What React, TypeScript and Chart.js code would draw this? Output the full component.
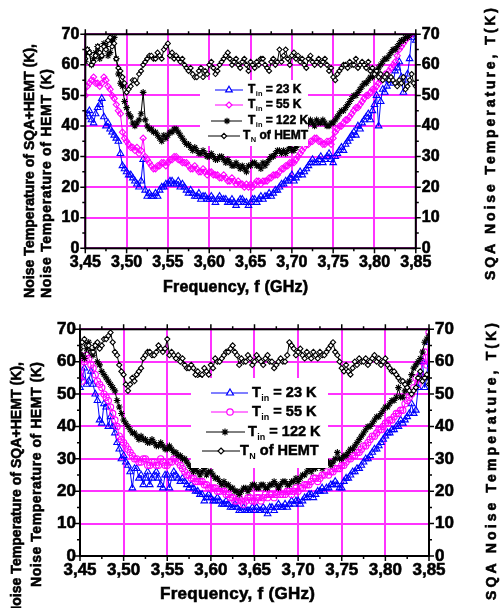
import React, { useEffect, useRef } from 'react';
import { Chart, registerables } from 'chart.js';
Chart.register(...registerables);

const FF = '"Liberation Sans", Arial, Helvetica, sans-serif';
const GRID = '#ff33ff';

const FREQ = [
  3.4500, 3.4525, 3.4550, 3.4575, 3.4600, 3.4625, 3.4650, 3.4675,
  3.4700, 3.4725, 3.4750, 3.4775, 3.4800, 3.4825, 3.4850, 3.4875,
  3.4900, 3.4925, 3.4950, 3.4975, 3.5000, 3.5025, 3.5050, 3.5075,
  3.5100, 3.5125, 3.5150, 3.5175, 3.5200, 3.5225, 3.5250, 3.5275,
  3.5300, 3.5325, 3.5350, 3.5375, 3.5400, 3.5425, 3.5450, 3.5475,
  3.5500, 3.5525, 3.5550, 3.5575, 3.5600, 3.5625, 3.5650, 3.5675,
  3.5700, 3.5725, 3.5750, 3.5775, 3.5800, 3.5825, 3.5850, 3.5875,
  3.5900, 3.5925, 3.5950, 3.5975, 3.6000, 3.6025, 3.6050, 3.6075,
  3.6100, 3.6125, 3.6150, 3.6175, 3.6200, 3.6225, 3.6250, 3.6275,
  3.6300, 3.6325, 3.6350, 3.6375, 3.6400, 3.6425, 3.6450, 3.6475,
  3.6500, 3.6525, 3.6550, 3.6575, 3.6600, 3.6625, 3.6650, 3.6675,
  3.6700, 3.6725, 3.6750, 3.6775, 3.6800, 3.6825, 3.6850, 3.6875,
  3.6900, 3.6925, 3.6950, 3.6975, 3.7000, 3.7025, 3.7050, 3.7075,
  3.7100, 3.7125, 3.7150, 3.7175, 3.7200, 3.7225, 3.7250, 3.7275,
  3.7300, 3.7325, 3.7350, 3.7375, 3.7400, 3.7425, 3.7450, 3.7475,
  3.7500, 3.7525, 3.7550, 3.7575, 3.7600, 3.7625, 3.7650, 3.7675,
  3.7700, 3.7725, 3.7750, 3.7775, 3.7800, 3.7825, 3.7850, 3.7875,
  3.7900, 3.7925, 3.7950, 3.7975, 3.8000, 3.8025, 3.8050, 3.8075,
  3.8100, 3.8125, 3.8150, 3.8175, 3.8200, 3.8225, 3.8250, 3.8275,
  3.8300, 3.8325, 3.8350, 3.8375, 3.8400, 3.8425, 3.8450, 3.8475,
  3.8500,
];

// ---- top panel ----
const TOP_T23 = [
  43, 44, 45, 42, 41, 44, 46, 47,
  49, 43, 40, 41, 39, 38, 37, 36,
  35, 31, 27, 26, 25, 24, 24, 23,
  22, 21, 20, 22, 29, 19, 17, 18,
  17, 17, 18, 17, 19, 20, 20, 21,
  21, 22, 22, 21, 21, 22, 20, 21,
  20, 19, 18, 19, 18, 17, 17, 18,
  16, 17, 17, 16, 16, 17, 16, 15,
  16, 17, 16, 16, 16, 15, 15, 16,
  15, 14, 15, 16, 16, 15, 15, 14,
  15, 16, 16, 15, 16, 17, 16, 17,
  17, 18, 17, 18, 19, 19, 20, 21,
  21, 22, 22, 23, 24, 22, 23, 24,
  25, 24, 25, 26, 27, 28, 29, 28,
  28, 29, 30, 28, 29, 30, 31, 29,
  28, 30, 31, 32, 33, 32, 34, 35,
  36, 37, 38, 37, 40, 39, 41, 42,
  43, 44, 42, 45, 47, 50, 40, 48,
  52, 51, 53, 55, 55, 54, 58, 59,
  61, 56, 51, 55, 57, 62, 70, 69,
  68,
];
const TOP_T55 = [
  50, 53, 54, 55, 56, 54, 54, 53,
  54, 56, 55, 53, 52, 50, 49, 47,
  45, 44, 38, 36, 35, 34, 33, 33,
  32, 33, 31, 32, 36, 30, 29, 28,
  27, 26, 26, 27, 27, 28, 28, 27,
  28, 29, 29, 30, 30, 29, 29, 28,
  28, 28, 27, 26, 26, 27, 26, 25,
  25, 26, 25, 24, 25, 25, 24, 24,
  24, 23, 23, 24, 23, 22, 22, 23,
  22, 21, 22, 21, 21, 20, 21, 20,
  21, 20, 21, 22, 22, 21, 22, 22,
  22, 23, 23, 24, 24, 24, 25, 26,
  26, 27, 27, 28, 28, 28, 29, 30,
  31, 32, 33, 34, 34, 35, 35, 36,
  36, 35, 35, 34, 34, 35, 35, 34,
  36, 38, 39, 40, 40, 41, 42, 42,
  43, 44, 45, 46, 46, 47, 48, 49,
  50, 50, 51, 52, 52, 53, 54, 55,
  56, 57, 57, 58, 59, 60, 61, 63,
  65, 66, 67, 68, 69, 70, 70, 71,
  71,
];
const TOP_T122 = [
  61, 65, 64, 60, 62, 64, 66, 62,
  63, 67, 66, 63, 64, 68, 69, 62,
  57, 54, 53, 48, 46, 44, 43, 41,
  40, 41, 42, 44, 51, 42, 40, 39,
  39, 38, 38, 37, 36, 35, 37, 36,
  37, 38, 38, 39, 39, 38, 37, 36,
  35, 34, 34, 33, 32, 33, 32, 31,
  31, 32, 31, 30, 30, 31, 30, 29,
  29, 30, 30, 29, 28, 29, 28, 27,
  27, 28, 27, 26, 27, 26, 25, 27,
  27, 28, 28, 27, 27, 26, 28, 27,
  28, 29, 30, 30, 31, 32, 32, 31,
  32, 31, 32, 33, 32, 32, 33, 34,
  35, 36, 38, 40, 41, 42, 41, 40,
  42, 41, 41, 42, 41, 40, 40, 41,
  41, 42, 43, 44, 45, 45, 46, 47,
  48, 49, 50, 50, 51, 52, 53, 54,
  54, 55, 56, 56, 57, 58, 59, 60,
  61, 62, 62, 63, 64, 65, 65, 66,
  67, 68, 68, 69, 69, 70, 71, 71,
  72,
];
const TOP_HEMT = [
  62, 65, 64, 60, 61, 63, 66, 64,
  63, 66, 65, 68, 69, 66, 67, 62,
  59, 58, 56, 54, 51, 52, 53, 55,
  55, 54, 57, 58, 60, 61, 62, 63,
  63, 62, 62, 64, 63, 62, 65, 66,
  67, 63, 64, 62, 63, 62, 61, 62,
  60, 59, 58, 59, 57, 56, 56, 58,
  59, 56, 58, 57, 60, 61, 59, 57,
  58, 60, 61, 62, 63, 64, 62, 60,
  61, 62, 60, 59, 61, 62, 60, 58,
  61, 60, 59, 61, 60, 62, 62, 60,
  59, 58, 61, 62, 60, 61, 65, 61,
  63, 65, 62, 60, 63, 64, 62, 63,
  61, 62, 60, 59, 62, 63, 61, 60,
  61, 62, 60, 61, 62, 60, 58, 59,
  56, 55, 57, 58, 59, 60, 60, 59,
  61, 60, 60, 62, 59, 60, 61, 60,
  59, 61, 58, 59, 57, 58, 56, 57,
  55, 56, 57, 55, 56, 55, 54, 53,
  55, 54, 56, 52, 53, 55, 57, 54,
  53,
];

// ---- bottom panel ----
const BOT_T23 = [
  52, 55, 58, 53, 54, 57, 53, 50,
  48, 42, 41, 47, 46, 40, 43, 40,
  38, 35, 33, 30, 31, 29, 28, 26,
  21, 27, 27, 24, 25, 22, 24, 26,
  22, 24, 25, 26, 24, 22, 21, 25,
  25, 21, 24, 26, 25, 24, 23, 24,
  23, 22, 21, 22, 21, 20, 20, 19,
  19, 17, 18, 19, 18, 17, 17, 18,
  17, 16, 16, 17, 16, 15, 15, 16,
  15, 14, 14, 15, 14, 14, 14, 15,
  14, 15, 14, 14, 15, 14, 13, 15,
  15, 14, 15, 16, 15, 15, 16, 15,
  16, 17, 16, 17, 17, 16, 17, 18,
  18, 19, 19, 18, 19, 20, 20, 21,
  20, 21, 21, 22, 22, 23, 22, 21,
  21, 23, 24, 24, 25, 26, 26, 27,
  27, 28, 29, 30, 30, 31, 32, 33,
  33, 34, 35, 36, 37, 38, 38, 39,
  39, 40, 40, 42, 41, 42, 43, 44,
  47, 44, 45, 52, 56, 60, 52, 55,
  66,
];
const BOT_T55 = [
  62, 54, 60, 62, 61, 59, 58, 56,
  54, 53, 52, 50, 49, 48, 46, 44,
  42, 40, 37, 36, 35, 34, 33, 32,
  31, 30, 30, 29, 29, 30, 30, 28,
  28, 29, 29, 28, 28, 30, 29, 28,
  28, 29, 29, 30, 30, 29, 28, 27,
  26, 25, 25, 24, 24, 23, 23, 23,
  23, 22, 22, 21, 21, 21, 21, 20,
  20, 21, 20, 19, 19, 18, 18, 17,
  17, 18, 17, 16, 17, 18, 18, 17,
  17, 18, 18, 17, 18, 19, 18, 19,
  19, 18, 19, 20, 19, 19, 19, 20,
  20, 19, 20, 21, 20, 21, 21, 22,
  22, 22, 23, 24, 24, 23, 24, 25,
  25, 26, 25, 26, 26, 27, 27, 27,
  28, 28, 29, 30, 30, 31, 31, 32,
  32, 33, 34, 34, 35, 36, 37, 37,
  38, 39, 39, 40, 41, 41, 42, 42,
  43, 44, 44, 45, 45, 47, 48, 49,
  50, 52, 55, 53, 56, 60, 63, 59,
  69,
];
const BOT_T122 = [
  64, 62, 61, 64, 66, 63, 62, 65,
  60, 59, 57, 56, 55, 54, 53, 52,
  51, 48, 46, 44, 42, 41, 40, 39,
  38, 38, 37, 36, 37, 36, 36, 35,
  35, 36, 35, 34, 34, 35, 34, 33,
  33, 34, 33, 32, 32, 31, 31, 30,
  30, 29, 28, 27, 26, 27, 26, 25,
  26, 27, 25, 26, 26, 25, 24, 24,
  23, 22, 23, 22, 22, 21, 21, 20,
  20, 19, 20, 21, 21, 20, 21, 22,
  22, 21, 21, 22, 22, 21, 21, 22,
  22, 23, 22, 21, 22, 23, 23, 22,
  22, 23, 23, 24, 23, 24, 25, 25,
  26, 27, 26, 27, 27, 28, 28, 27,
  28, 29, 29, 28, 29, 30, 32, 30,
  30, 31, 31, 32, 33, 33, 34, 35,
  36, 37, 38, 39, 40, 40, 41, 42,
  43, 43, 44, 45, 46, 46, 47, 48,
  48, 49, 52, 49, 49, 51, 53, 54,
  56, 58, 59, 60, 61, 63, 66, 67,
  68,
];
const BOT_HEMT = [
  64, 66, 67, 65, 65, 63, 63, 65,
  66, 64, 65, 67, 67, 68, 69, 66,
  63, 62, 59, 57, 56, 53, 51, 53,
  55, 54, 56, 57, 58, 61, 62, 63,
  63, 62, 62, 63, 65, 64, 63, 64,
  67, 62, 63, 62, 61, 62, 60, 61,
  59, 58, 58, 59, 58, 56, 57, 55,
  56, 58, 57, 56, 59, 58, 61, 60,
  60, 61, 62, 63, 63, 64, 65, 63,
  62, 59, 61, 60, 60, 62, 61, 59,
  60, 62, 61, 60, 59, 61, 62, 60,
  60, 58, 59, 60, 61, 60, 60, 62,
  66, 65, 64, 62, 63, 64, 62, 61,
  63, 62, 61, 63, 62, 61, 63, 62,
  62, 63, 64, 65, 66, 63, 62, 60,
  58, 57, 59, 57, 56, 58, 60, 59,
  61, 60, 60, 61, 59, 60, 61, 62,
  60, 61, 59, 60, 61, 59, 58, 57,
  57, 56, 55, 54, 54, 53, 52, 51,
  50, 51, 52, 55, 57, 54, 55, 56,
  53,
];

const X_TICKS = [3.45, 3.5, 3.55, 3.6, 3.65, 3.7, 3.75, 3.8, 3.85];
const Y_TICKS = [0, 10, 20, 30, 40, 50, 60, 70];
const SERIES_LABELS = [
  ['T', 'in', ' = 23 K'],
  ['T', 'in', ' = 55 K'],
  ['T', 'in', ' = 122 K'],
  ['T', 'N', ' of HEMT'],
];
const Y_TITLE = ['Noise Temperature of SQA+HEMT (K),', 'Noise Temperature of HEMT (K)'];
const Y2_TITLE = 'SQA Noise Temperature, T(K)';
const X_TITLE = 'Frequency, f (GHz)';

const COLORS = ['#0000ff', '#ff00ff', '#000000', '#000000'];
const FILLS = ['rgba(0,0,0,0)', 'rgba(0,0,0,0)', 'rgba(0,0,0,0)', '#ffffff'];

const TOP_CFG = {
  h: 300,
  area: { l: 85.3, r: 415.8, t: 34.3, b: 248.3 },
  data: [TOP_T23, TOP_T55, TOP_T122, TOP_HEMT],
  markers: ['triangle', 'rectRot', 'star', 'rectRot'],
  radii: [3.8, 3.1, 3.3, 2.5],
  tickFont: 16, padL: 6, padR: 6, padX: 5,
  legend: {
    box: [200, 80, 108, 66], rows: [90, 105, 121, 136],
    lines: [[215, 243, 229], [215, 243, 229], [211, 242, 227], [208, 240, 224]],
    textX: [248, 248, 248, 243], font: 12, radii: [3.8, 3, 3.2, 2.6],
  },
  yTitle: { xs: [30, 47], anchor: 298, mode: 'start', lens: [254, 229], font: 14 },
  y2Title: { x: 491, start: 280, len: 272, font: 14 },
  xTitle: { cx: 235.5, y: 288, len: 145, font: 16 },
};

const BOT_CFG = {
  h: 308,
  area: { l: 80, r: 429, t: 29.3, b: 256 },
  data: [BOT_T23, BOT_T55, BOT_T122, BOT_HEMT],
  markers: ['triangle', 'circle', 'star', 'rectRot'],
  radii: [3.8, 3.1, 3.3, 2.6],
  tickFont: 17, padL: 4, padR: 6, padX: 4,
  legend: {
    box: [191, 78, 137, 90], rows: [93, 112, 132, 151],
    lines: [[211, 248, 230], [211, 248, 230], [206, 245, 225], [202, 240, 221]],
    textX: [252, 252, 248, 240], font: 14.5, radii: [4, 3.2, 3.5, 3],
  },
  yTitle: { xs: [17.5, 37.5], anchor: 62, mode: 'end', lens: [254, 225], font: 14 },
  y2Title: { x: 492, start: 300, len: 277, font: 14 },
  xTitle: { cx: 237.5, y: 294, len: 155, font: 17 },
};

const STROKE_W = 0.6;

function drawMarker(ctx: any, style: string, x: number, y: number, r: number, stroke: string, fill: string) {
  ctx.save();
  ctx.strokeStyle = stroke;
  ctx.fillStyle = fill;
  ctx.lineWidth = 1.2;
  ctx.beginPath();
  if (style === 'triangle') {
    ctx.moveTo(x, y - r);
    ctx.lineTo(x + r * 0.866, y + r * 0.5);
    ctx.lineTo(x - r * 0.866, y + r * 0.5);
    ctx.closePath();
    ctx.fill(); ctx.stroke();
  } else if (style === 'rectRot') {
    ctx.moveTo(x, y - r); ctx.lineTo(x + r, y); ctx.lineTo(x, y + r); ctx.lineTo(x - r, y);
    ctx.closePath();
    ctx.fill(); ctx.stroke();
  } else if (style === 'circle') {
    ctx.arc(x, y, r, 0, Math.PI * 2);
    ctx.fill(); ctx.stroke();
  } else {
    ctx.moveTo(x - r, y); ctx.lineTo(x + r, y);
    ctx.moveTo(x, y - r); ctx.lineTo(x, y + r);
    const d = r * 0.707;
    ctx.moveTo(x - d, y - d); ctx.lineTo(x + d, y + d);
    ctx.moveTo(x - d, y + d); ctx.lineTo(x + d, y - d);
    ctx.stroke();
  }
  ctx.restore();
}

function boldText(ctx: any, txt: string, x: number, y: number) {
  ctx.fillText(txt, x, y);
  ctx.strokeText(txt, x, y);
}

function drawLabel(ctx: any, x: number, y: number, parts: string[], size: number) {
  ctx.textAlign = 'left';
  ctx.textBaseline = 'middle';
  ctx.fillStyle = '#000';
  ctx.strokeStyle = '#000';
  ctx.lineWidth = STROKE_W * 0.8;
  ctx.font = `bold ${size}px ${FF}`;
  boldText(ctx, parts[0], x, y);
  let w = ctx.measureText(parts[0]).width + 0.5;
  ctx.font = `bold ${size * 0.62}px ${FF}`;
  ctx.fillText(parts[1], x + w, y + size * 0.36);
  w += ctx.measureText(parts[1]).width;
  ctx.font = `bold ${size}px ${FF}`;
  boldText(ctx, parts[2], x + w, y);
}

function fitSpacing(ctx: any, text: string, len: number) {
  ctx.letterSpacing = '0px';
  const w = ctx.measureText(text).width;
  const ls = (len - w) / Math.max(1, text.length - 1);
  ctx.letterSpacing = `${ls}px`;
}

function decorPlugin(P: any) {
  return {
    id: 'decor',
    afterDatasetsDraw(chart: any) {
      const ctx = chart.ctx;
      const a = chart.chartArea;
      const xs = chart.scales.x;
      const ys = chart.scales.y;
      ctx.save();
      const L = P.legend;
      const [bx, by, bw, bh] = L.box;
      ctx.fillStyle = '#ffffff';
      ctx.fillRect(bx, by, bw, bh);
      L.rows.forEach((ry: number, i: number) => {
        const [x0, x1, mx] = L.lines[i];
        ctx.strokeStyle = COLORS[i];
        ctx.lineWidth = 1;
        ctx.beginPath(); ctx.moveTo(x0, ry); ctx.lineTo(x1, ry); ctx.stroke();
        drawMarker(ctx, P.markers[i], mx, ry, L.radii[i], COLORS[i], '#fff');
        drawLabel(ctx, L.textX[i], ry, SERIES_LABELS[i], L.font);
      });
      ctx.strokeStyle = '#000';
      ctx.lineWidth = 2;
      ctx.strokeRect(a.left, a.top, a.right - a.left, a.bottom - a.top);
      ctx.lineWidth = 1.5;
      ctx.beginPath();
      for (let k = 0; k <= 14; k++) {
        const p = ys.getPixelForValue(k * 5);
        const len = k % 2 === 0 ? 5 : 3;
        ctx.moveTo(a.left - len, p); ctx.lineTo(a.left, p);
        ctx.moveTo(a.right, p); ctx.lineTo(a.right + len, p);
      }
      for (let k = 0; k <= 16; k++) {
        const p = xs.getPixelForValue(X_TICKS[0] + k * 0.025);
        const len = k % 2 === 0 ? 5 : 3;
        ctx.moveTo(p, a.bottom); ctx.lineTo(p, a.bottom + len);
        ctx.moveTo(p, a.top - len); ctx.lineTo(p, a.top);
      }
      ctx.stroke();
      ctx.restore();
    },
    afterDraw(chart: any) {
      const ctx = chart.ctx;
      ctx.save();
      ctx.fillStyle = '#000';
      ctx.strokeStyle = '#000';
      ctx.lineWidth = STROKE_W;
      ctx.textBaseline = 'middle';
      ctx.textAlign = 'left';
      const T = P.yTitle;
      Y_TITLE.forEach((txt, i) => {
        ctx.save();
        ctx.font = `bold ${T.font}px ${FF}`;
        fitSpacing(ctx, txt, T.lens[i]);
        ctx.translate(T.xs[i], T.anchor);
        ctx.rotate(-Math.PI / 2);
        boldText(ctx, txt, T.mode === 'start' ? 0 : -T.lens[i], 0);
        ctx.restore();
      });
      const R = P.y2Title;
      ctx.save();
      ctx.font = `bold ${R.font}px ${FF}`;
      fitSpacing(ctx, Y2_TITLE, R.len);
      ctx.translate(R.x, R.start);
      ctx.rotate(-Math.PI / 2);
      boldText(ctx, Y2_TITLE, 0, 0);
      ctx.restore();
      const X = P.xTitle;
      ctx.save();
      ctx.font = `bold ${X.font}px ${FF}`;
      fitSpacing(ctx, X_TITLE, X.len);
      boldText(ctx, X_TITLE, X.cx - X.len / 2, X.y);
      ctx.restore();
      ctx.restore();
    },
  };
}

function buildConfig(P: any): any {
  const a = P.area;
  const WL = a.l;
  const WR = 502 - a.r;
  const HX = P.h - a.b;
  const tickFont = { family: FF, size: P.tickFont, weight: 'bold' };
  const tickBase = { color: '#000', font: tickFont, textStrokeColor: '#000', textStrokeWidth: STROKE_W };
  const datasets = P.data.map((vals: number[], i: number) => ({
    data: FREQ.map((f, j) => ({ x: f, y: vals[j] })),
    showLine: true,
    borderColor: COLORS[i],
    borderWidth: 1,
    pointStyle: P.markers[i],
    pointRadius: P.radii[i],
    pointBorderColor: COLORS[i],
    pointBackgroundColor: FILLS[i],
    pointBorderWidth: 1.1,
    clip: 0,
    order: 4 - i,
  }));
  return {
    type: 'scatter',
    data: { datasets },
    options: {
      animation: false,
      responsive: false,
      devicePixelRatio: 1,
      events: [],
      layout: { padding: { top: a.t, left: 0, right: 0, bottom: 0 } },
      plugins: { legend: { display: false }, tooltip: { enabled: false }, title: { display: false } },
      scales: {
        x: {
          type: 'linear', position: 'bottom', min: 3.45, max: 3.85,
          afterBuildTicks: (s: any) => { s.ticks = X_TICKS.map((v) => ({ value: v })); },
          afterFit: (s: any) => { s.height = HX; },
          grid: { color: GRID, lineWidth: 2, drawTicks: false },
          border: { display: false },
          ticks: {
            ...tickBase, padding: P.padX, maxRotation: 0, minRotation: 0, autoSkip: false,
            callback: (v: any) => Number(v).toFixed(2).replace('.', ','),
          },
        },
        y: {
          type: 'linear', position: 'left', min: 0, max: 70,
          afterBuildTicks: (s: any) => { s.ticks = Y_TICKS.map((v) => ({ value: v })); },
          afterFit: (s: any) => { s.width = WL; },
          grid: { color: GRID, lineWidth: 2, drawTicks: false },
          border: { display: false },
          ticks: { ...tickBase, padding: P.padL, callback: (v: any) => String(v) },
        },
        y2: {
          type: 'linear', position: 'right', min: 0, max: 70,
          afterBuildTicks: (s: any) => { s.ticks = Y_TICKS.map((v) => ({ value: v })); },
          afterFit: (s: any) => { s.width = WR; },
          grid: { display: false, drawTicks: false },
          border: { display: false },
          ticks: { ...tickBase, padding: P.padR, callback: (v: any) => String(v) },
        },
      },
    },
    plugins: [decorPlugin(P)],
  };
}

function Panel({ cfg, top }: { cfg: any; top: number }) {
  const ref = useRef<HTMLCanvasElement>(null);
  useEffect(() => {
    if (!ref.current) return;
    const chart = new Chart(ref.current, buildConfig(cfg));
    return () => chart.destroy();
  }, [cfg]);
  return (
    <canvas
      ref={ref}
      width={502}
      height={cfg.h}
      style={{ position: 'absolute', left: 0, top, width: 502, height: cfg.h, display: 'block' }}
    />
  );
}

export default function App() {
  return (
    <div style={{ position: 'absolute', left: 0, top: 0, width: 502, height: 608, background: '#fff', overflow: 'hidden' }}>
      <Panel cfg={TOP_CFG} top={0} />
      <Panel cfg={BOT_CFG} top={300} />
    </div>
  );
}
